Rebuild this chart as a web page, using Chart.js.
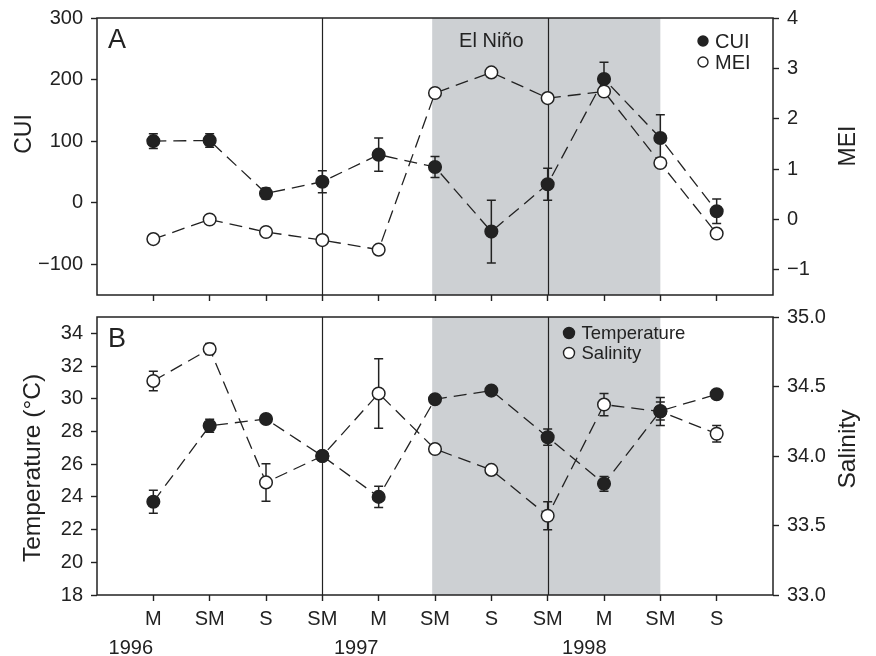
<!DOCTYPE html>
<html>
<head>
<meta charset="utf-8">
<script src="https://cdn.jsdelivr.net/npm/chart.js@4.4.0/dist/chart.umd.min.js"></script>
<style>
  body { margin: 0; background: #fff; }
  #wrap { position: relative; width: 876px; height: 656px; }
  canvas { position: absolute; left: 0; }
  #panelA { top: 0; }
  #panelB { top: 305px; }
</style>
</head>
<body>
<div id="wrap">
  <canvas id="panelA" width="876" height="305"></canvas>
  <canvas id="panelB" width="876" height="351"></canvas>
</div>
<script>
// sampling seasons along the x axis (positions 1..11)
var seasons = ['M', 'SM', 'S', 'SM', 'M', 'SM', 'S', 'SM', 'M', 'SM', 'S'];
var years = ['1996', '1997', '1998'];
var yearPos = [0.6, 4.6, 8.65];
var yearLines = [4, 8];
var elNino = [5.95, 10];

// panel A
var cui    = [100, 101, 15, 34, 78, 58, -47, 30, 201, 105, -14];
var cuiErr = [12, 11, 9, 18, 27, 17, 51, 26, 27, 38, 20];
var mei    = [-0.39, 0.0, -0.25, -0.41, -0.60, 2.51, 2.92, 2.41, 2.54, 1.12, -0.28];

// panel B
var temp    = [23.7, 28.35, 28.76, 26.5, 24.0, 29.97, 30.5, 27.65, 24.8, 29.25, 30.28];
var tempErr = [0.7, 0.4, 0.2, 0.2, 0.65, 0.12, 0.1, 0.5, 0.45, 0.55, 0.15];
var sal     = [34.54, 34.77, 33.81, 34.0, 34.45, 34.05, 33.9, 33.57, 34.37, 34.32, 34.16];
var salErr  = [0.07, 0.04, 0.135, 0.03, 0.25, 0.03, 0.03, 0.1, 0.08, 0.1, 0.06];

var xTicks    = [1, 2, 3, 4, 5, 6, 7, 8, 9, 10, 11];
var cuiTicks  = [-100, 0, 100, 200, 300];
var meiTicks  = [-1, 0, 1, 2, 3, 4];
var tempTicks = [18, 20, 22, 24, 26, 28, 30, 32, 34];
var salTicks  = [33, 33.5, 34, 34.5, 35];

var INK = '#222';
var FONT = '"Liberation Sans", Arial, sans-serif';

function pts(vals) {
    return vals.map(function(v, i) { return { x: i + 1, y: v }; });
}

function fixed(arr) {
    return function(scale) { scale.ticks = arr.map(function(v) { return { value: v }; }); };
}

// keep the plot box where the figure has it: no label padding
function noPad(s) {
    s.paddingTop = 0; s.paddingBottom = 0; s.paddingLeft = 0; s.paddingRight = 0;
}

var deco = {
    id: 'deco',
    beforeDatasetsDraw: function(chart, args, o) {
        var ctx = chart.ctx, a = chart.chartArea, x = chart.scales.x;
        ctx.save();
        // El Nino shading
        var x0 = x.getPixelForValue(elNino[0]), x1 = x.getPixelForValue(elNino[1]);
        ctx.fillStyle = '#cdd0d3';
        ctx.fillRect(x0, a.top, x1 - x0, a.bottom - a.top);
        // year separators
        ctx.strokeStyle = INK;
        ctx.lineWidth = 1.2;
        yearLines.forEach(function(v) {
            var px = Math.round(x.getPixelForValue(v)) + 0.5;
            ctx.beginPath(); ctx.moveTo(px, a.top); ctx.lineTo(px, a.bottom); ctx.stroke();
        });
        // error bars
        ctx.lineWidth = 1.5;
        chart.data.datasets.forEach(function(ds) {
            if (!ds.errors) return;
            var ys = chart.scales[ds.yAxisID];
            ds.data.forEach(function(p, i) {
                var e = ds.errors[i];
                var px = x.getPixelForValue(p.x);
                var t = ys.getPixelForValue(p.y + e), b = ys.getPixelForValue(p.y - e);
                ctx.beginPath();
                ctx.moveTo(px, t); ctx.lineTo(px, b);
                ctx.moveTo(px - 4.5, t); ctx.lineTo(px + 4.5, t);
                ctx.moveTo(px - 4.5, b); ctx.lineTo(px + 4.5, b);
                ctx.stroke();
            });
        });
        ctx.restore();
    },
    afterDraw: function(chart, args, o) {
        var ctx = chart.ctx, a = chart.chartArea, x = chart.scales.x;
        ctx.save();
        ctx.strokeStyle = INK;
        ctx.lineWidth = 1.5;
        ctx.strokeRect(a.left, a.top, a.right - a.left, a.bottom - a.top);

        ctx.fillStyle = INK;
        ctx.textBaseline = 'middle';
        // panel letter
        ctx.font = '27px ' + FONT;
        ctx.textAlign = 'left';
        ctx.fillText(o.letter, a.left + 11, a.top + 23);
        // El Nino label
        if (o.note) {
            ctx.font = '20px ' + FONT;
            ctx.textAlign = 'center';
            ctx.fillText(o.note, x.getPixelForValue(7), a.top + 23);
        }
        // axis titles
        o.titles.forEach(function(t) {
            ctx.save();
            ctx.font = t.size + 'px ' + FONT;
            ctx.translate(t.x, t.y);
            ctx.rotate(t.rot);
            ctx.textAlign = 'center';
            ctx.fillText(t.text, 0, 0);
            ctx.restore();
        });
        // legend
        var lg = o.legend;
        ctx.font = lg.size + 'px ' + FONT;
        ctx.textAlign = 'left';
        chart.data.datasets.forEach(function(ds, i) {
            var cy = lg.y + i * lg.gap;
            ctx.beginPath();
            ctx.arc(lg.x, cy, lg.r, 0, Math.PI * 2);
            ctx.fillStyle = ds.pointBackgroundColor;
            ctx.fill();
            ctx.lineWidth = 1.4;
            ctx.strokeStyle = INK;
            ctx.stroke();
            ctx.fillStyle = INK;
            ctx.fillText(ds.label, lg.x + lg.r + 7, cy + 1);
        });
        // years under the season labels
        if (o.years) {
            ctx.font = '20px ' + FONT;
            ctx.textAlign = 'center';
            years.forEach(function(y, i) {
                ctx.fillText(y, x.getPixelForValue(yearPos[i]), o.years);
            });
        }
        ctx.restore();
    }
};

function series(label, vals, errs, axis, filled, order) {
    return {
        label: label,
        data: pts(vals),
        errors: errs,
        yAxisID: axis,
        order: order,
        borderColor: INK,
        borderWidth: 1.3,
        borderDash: [13, 7],
        pointRadius: 6.3,
        pointHoverRadius: 6.3,
        pointBorderWidth: 1.5,
        pointBorderColor: INK,
        pointBackgroundColor: filled ? INK : '#fff',
        fill: false,
        tension: 0
    };
}

function yAxis(pos, min, max, arr, fmt, width) {
    return {
        type: 'linear',
        position: pos,
        min: min,
        max: max,
        afterBuildTicks: fixed(arr),
        afterFit: function(s) { s.width = width; noPad(s); },
        grid: { drawOnChartArea: false, drawTicks: true, tickLength: 6, tickColor: INK, tickWidth: 1.4 },
        border: { display: false },
        ticks: {
            color: INK, padding: 8,
            font: { family: FONT, size: 20 },
            callback: fmt
        }
    };
}

function xAxis(showLabels, height) {
    return {
        type: 'linear',
        min: 0,
        max: 12,
        afterBuildTicks: fixed(xTicks),
        afterFit: function(s) { s.height = height; noPad(s); },
        grid: { drawOnChartArea: false, drawTicks: true, tickLength: 6, tickColor: INK, tickWidth: 1.4 },
        border: { display: false },
        ticks: {
            display: showLabels,
            color: INK, padding: 6,
            maxRotation: 0,
            font: { family: FONT, size: 20 },
            callback: function(v) { return seasons[v - 1]; }
        }
    };
}

var common = {
    responsive: false,
    animation: false,
    events: [],
    plugins: { legend: { display: false }, tooltip: { enabled: false } }
};

function minus(v) { return v < 0 ? '\u2212' + Math.abs(v) : String(v); }

new Chart(document.getElementById('panelA').getContext('2d'), {
    type: 'line',
    data: {
        datasets: [
            series('CUI', cui, cuiErr, 'y', true, 2),
            series('MEI', mei, null, 'y1', false, 1)
        ]
    },
    options: Object.assign({}, common, {
        layout: { padding: { top: 18, left: 0, right: 0, bottom: 0 } },
        scales: {
            x: xAxis(false, 10),
            y: yAxis('left', -150, 300, cuiTicks, minus, 97),
            y1: yAxis('right', -1.5, 4, meiTicks, minus, 103)
        },
        plugins: Object.assign({}, common.plugins, {
            deco: {
                letter: 'A',
                note: 'El Ni\u00f1o',
                titles: [
                    { text: 'CUI', x: 25, y: 134, rot: -Math.PI / 2, size: 23 },
                    { text: 'MEI', x: 849, y: 146, rot: -Math.PI / 2, size: 23 }
                ],
                legend: { x: 703, y: 41, gap: 21, r: 5, size: 20 }
            }
        })
    }),
    plugins: [deco]
});

new Chart(document.getElementById('panelB').getContext('2d'), {
    type: 'line',
    data: {
        datasets: [
            series('Temperature', temp, tempErr, 'y', true, 1),
            series('Salinity', sal, salErr, 'y1', false, 2)
        ]
    },
    options: Object.assign({}, common, {
        layout: { padding: { top: 12, left: 0, right: 0, bottom: 0 } },
        scales: {
            x: xAxis(true, 61),
            y: yAxis('left', 18, 35, tempTicks, function(v) { return String(v); }, 97),
            y1: yAxis('right', 33, 35, salTicks, function(v) { return v.toFixed(1); }, 103)
        },
        plugins: Object.assign({}, common.plugins, {
            deco: {
                letter: 'B',
                titles: [
                    { text: 'Temperature (\u00b0C)', x: 33, y: 163, rot: -Math.PI / 2, size: 24.5 },
                    { text: 'Salinity', x: 848, y: 144, rot: -Math.PI / 2, size: 24.5 }
                ],
                legend: { x: 569, y: 28, gap: 20, r: 5.5, size: 18.5 },
                years: 343
            }
        })
    }),
    plugins: [deco]
});
</script>
</body>
</html>
